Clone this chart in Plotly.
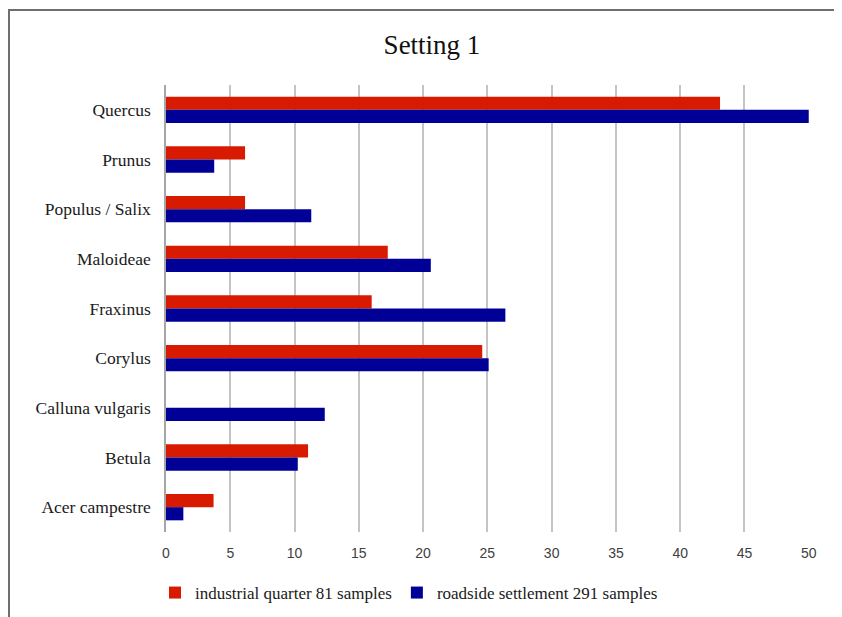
import plotly.graph_objects as go

categories = ["Quercus", "Prunus", "Populus / Salix", "Maloideae", "Fraxinus",
              "Corylus", "Calluna vulgaris", "Betula", "Acer campestre"]
industrial = [43.1, 6.15, 6.15, 17.25, 16.0, 24.6, 0, 11.05, 3.7]
roadside = [50.0, 3.75, 11.3, 20.6, 26.4, 25.1, 12.35, 10.25, 1.35]
series_names = ["industrial quarter 81 samples", "roadside settlement 291 samples"]
x_ticks = list(range(0, 51, 5))

RED = "#d81a00"
BLUE = "#000096"

# page body has an 8px offset; figure sized so the plot area lands at screen 166..809 x 85..532
W, H = 834, 609
PL, PR, PT, PB = 166, 809, 85, 532  # screen coords of plot area
OFF = 8


def px_x(sx):
    return (sx - PL) / (PR - PL)


def px_y(sy):
    return (PB - sy) / (PB - PT)


fig = go.Figure()
fig.add_trace(go.Bar(y=categories, x=industrial, orientation="h", name=series_names[0],
                     marker=dict(color=RED, line=dict(width=0))))
fig.add_trace(go.Bar(y=categories, x=roadside, orientation="h", name=series_names[1],
                     marker=dict(color=BLUE, line=dict(width=0))))

fig.update_layout(
    width=W, height=H,
    margin=dict(l=PL - OFF, r=W + OFF - PR, t=PT - OFF, b=H + OFF - PB, autoexpand=False),
    paper_bgcolor="white", plot_bgcolor="white",
    barmode="group", bargap=0.47, bargroupgap=0,
    title=dict(text="Setting 1", x=(432 - OFF) / W, y=1 - (45 - OFF) / H,
               xanchor="center", yanchor="middle",
               font=dict(family="Liberation Serif", size=27, color="#111111")),
    xaxis=dict(range=[0, 50.02], tickvals=x_ticks, showgrid=True, gridcolor="#c4c4c4", gridwidth=1.5,
               zeroline=False, showline=False, ticks="", ticklen=0, ticklabelstandoff=11,
               automargin=False,
               tickfont=dict(family="Liberation Sans", size=14, color="#404040")),
    yaxis=dict(categoryorder="array", categoryarray=categories, autorange="reversed",
               showline=True, linecolor="#a6a6a6", linewidth=1.5, ticks="",
               ticklabelstandoff=10, automargin=False,
               tickfont=dict(family="Liberation Serif", size=17.5, color="#1a1a1a")),
    legend=dict(orientation="h", x=px_x(155), y=px_y(593), xanchor="left", yanchor="middle",
                font=dict(family="Liberation Serif", size=17, color="#1a1a1a"),
                traceorder="normal", itemwidth=30),
    showlegend=True,
    shapes=[dict(type="rect", xref="paper", yref="paper",
                 x0=px_x(9), x1=px_x(900),
                 y0=px_y(700), y1=px_y(10),
                 line=dict(color="#6e6e6e", width=2), fillcolor="rgba(0,0,0,0)", layer="below")],
)

fig.write_html("out.html")
